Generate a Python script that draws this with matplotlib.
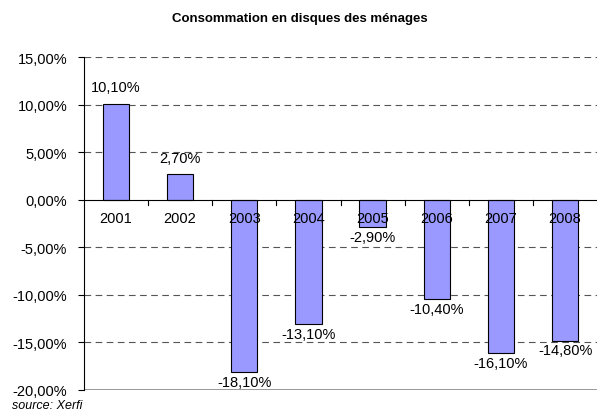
import matplotlib
matplotlib.use("Agg")
import matplotlib.pyplot as plt
import numpy as np

years = ["2001", "2002", "2003", "2004", "2005", "2006", "2007", "2008"]
values = [10.1, 2.7, -18.1, -13.1, -2.9, -10.4, -16.1, -14.8]
yticks = [-20, -15, -10, -5, 0, 5, 10, 15]

plt.rcParams['font.family'] = ['Liberation Sans', 'DejaVu Sans']

fig = plt.figure(figsize=(5.99, 4.14), dpi=100)
ax = fig.add_axes([0.140, 0.0556, 0.857, 0.804])

x = np.arange(len(years))
ax.bar(x, values, width=0.41, color='#9999FF', edgecolor='black', linewidth=0.8, zorder=3)

ax.set_xlim(-0.5, len(years) - 0.5)
ax.set_ylim(-20, 15)
ax.set_yticks(yticks)
ax.set_yticklabels([f"{v:.2f}%".replace(".", ",") for v in yticks], fontsize=10.5)
ax.tick_params(axis='y', length=4, width=0.8, pad=8)

for v in yticks:
    if v in (0, -20):
        continue
    ax.axhline(v, color='#555555', linestyle=(0, (6, 4)), linewidth=0.8, zorder=1)
ax.axhline(-20, color='#888888', linewidth=1.2, zorder=2)
ax.axhline(0, color='black', linewidth=0.8, zorder=4)

for s in ['top', 'right', 'bottom']:
    ax.spines[s].set_visible(False)
ax.spines['left'].set_linewidth(0.8)

# category labels sit on the zero line
ax.set_xticks([])
for i, y in enumerate(years):
    ax.text(i, -1.2, y, ha='center', va='top', fontsize=10.5, zorder=5)
# small ticks between categories, under the zero line
for b in np.arange(0.5, len(years) - 0.5, 1.0):
    ax.plot([b, b], [0, -0.6], color='black', linewidth=0.8, zorder=4)

for i, v in enumerate(values):
    lab = f"{v:.2f}%".replace(".", ",")
    if v >= 0:
        ax.text(i, v + 1.0, lab, ha='center', va='bottom', fontsize=10.5, zorder=5)
    else:
        ax.text(i, v - 0.3, lab, ha='center', va='top', fontsize=10.5, zorder=5)

fig.text(0.5, 0.954, "Consommation en disques des ménages", ha='center', va='center',
         fontsize=9.5, fontweight='bold')
fig.text(0.02, 0.005, "source: Xerfi", ha='left', va='bottom', fontsize=9, style='italic')

fig.savefig("out.png", dpi=100)
